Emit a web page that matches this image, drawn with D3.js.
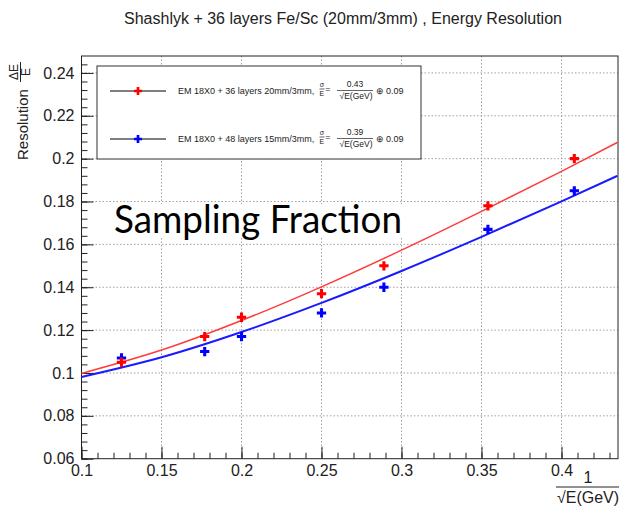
<!DOCTYPE html>
<html>
<head>
<meta charset="utf-8">
<script src="https://cdn.jsdelivr.net/npm/d3@7"></script>
<style>
  body { margin: 0; background: #fff; }
  svg { display: block; font-family: "Liberation Sans", Arial, sans-serif; }
</style>
</head>
<body>
<div id="chart"></div>
<script>
// 1/sqrt(E) of the measured points
const INV_SQRT_E = [0.125, 0.177, 0.2, 0.25, 0.289, 0.354, 0.408];
// measured resolution, 36 layers 20mm/3mm (red) and 48 layers 15mm/3mm (blue)
const RES_36 = [0.105, 0.117, 0.126, 0.137, 0.150, 0.178, 0.200];
const RES_48 = [0.107, 0.110, 0.117, 0.128, 0.140, 0.167, 0.185];
// fit curves
const FIT_X = [0.1, 0.15, 0.2, 0.25, 0.3, 0.35, 0.4, 0.435];
const FIT_36 = [0.0998, 0.1107, 0.1245, 0.1402, 0.1573, 0.1754, 0.1941, 0.2076];
const FIT_48 = [0.0981, 0.1073, 0.1191, 0.1327, 0.1476, 0.1635, 0.1801, 0.192];

const X_TICKS = [0.1, 0.15, 0.2, 0.25, 0.3, 0.35, 0.4];
const Y_TICKS = [0.06, 0.08, 0.1, 0.12, 0.14, 0.16, 0.18, 0.2, 0.22, 0.24];
const SERIES_LABELS = ["EM 18X0 + 36 layers 20mm/3mm,", "EM 18X0 + 48 layers 15mm/3mm,"];
const STOCHASTIC = ["0.43", "0.39"];
const CONSTANT = ["0.09", "0.09"];

const WIDTH = 620;
const HEIGHT = 506;
const FRAME = { left: 81.5, right: 618, top: 56, bottom: 458.7 };

const COLORS = {
  red: "#ff0000",
  blue: "#0000ff",
  redLine: "#ff3b3b",
  blueLine: "#1a1aff",
  axis: "#222",
  grid: "#a0a0a0",
  text: "#222",
};

const svg = d3.select("#chart").append("svg")
  .attr("width", WIDTH)
  .attr("height", HEIGHT);

const x = d3.scaleLinear().domain([0.1, 0.4353]).range([FRAME.left, FRAME.right]);
const y = d3.scaleLinear().domain([0.06, 0.2479]).range([FRAME.bottom, FRAME.top]);

// Title
svg.append("text")
  .attr("x", 343)
  .attr("y", 24)
  .attr("text-anchor", "middle")
  .attr("fill", COLORS.text)
  .style("font-size", "16px")
  .text("Shashlyk + 36 layers Fe/Sc (20mm/3mm) , Energy Resolution");

// Grid lines (dotted)
const grid = svg.append("g").attr("class", "grid");
grid.selectAll(".gx")
  .data(X_TICKS.slice(1))
  .enter().append("line")
  .attr("x1", (d) => x(d)).attr("x2", (d) => x(d))
  .attr("y1", FRAME.top).attr("y2", FRAME.bottom)
  .attr("stroke", COLORS.grid).attr("stroke-dasharray", "1.5,2");
grid.selectAll(".gy")
  .data(Y_TICKS.slice(1))
  .enter().append("line")
  .attr("x1", FRAME.left).attr("x2", FRAME.right)
  .attr("y1", (d) => y(d)).attr("y2", (d) => y(d))
  .attr("stroke", COLORS.grid).attr("stroke-dasharray", "1.5,2");

// Frame
svg.append("rect")
  .attr("x", FRAME.left).attr("y", FRAME.top)
  .attr("width", FRAME.right - FRAME.left)
  .attr("height", FRAME.bottom - FRAME.top)
  .attr("fill", "none").attr("stroke", COLORS.axis).attr("stroke-width", 1);

// Axes: major + minor ticks pointing inward
const xMinor = d3.range(0.1, 0.436, 0.01).map((v) => +v.toFixed(2));
const yMinor = d3.range(0.06, 0.2479, 0.004).map((v) => +v.toFixed(3));

const xAxisG = svg.append("g").attr("transform", `translate(0,${FRAME.bottom})`);
xAxisG.append("g")
  .call(d3.axisBottom(x).tickValues(xMinor).tickSize(-6).tickFormat(""))
  .call((g) => g.select(".domain").remove());
xAxisG.append("g")
  .call(d3.axisBottom(x).tickValues(X_TICKS).tickSize(-12).tickPadding(6)
    .tickFormat((d) => String(+d.toFixed(2))))
  .call((g) => g.select(".domain").remove())
  .call((g) => g.selectAll("text").style("font-size", "16px").attr("fill", COLORS.text));

const yAxisG = svg.append("g").attr("transform", `translate(${FRAME.left},0)`);
yAxisG.append("g")
  .call(d3.axisLeft(y).tickValues(yMinor).tickSize(-6).tickFormat(""))
  .call((g) => g.select(".domain").remove());
yAxisG.append("g")
  .call(d3.axisLeft(y).tickValues(Y_TICKS).tickSize(-12).tickPadding(7)
    .tickFormat((d) => String(+d.toFixed(2))))
  .call((g) => g.select(".domain").remove())
  .call((g) => g.selectAll("text").style("font-size", "16px").attr("fill", COLORS.text));

svg.selectAll(".tick line").attr("stroke", COLORS.axis);

// Fit curves
const line = d3.line()
  .x((d) => x(d[0]))
  .y((d) => y(d[1]))
  .curve(d3.curveMonotoneX);

svg.append("path")
  .datum(FIT_X.map((v, i) => [v, FIT_48[i]]))
  .attr("d", line)
  .attr("fill", "none")
  .attr("stroke", COLORS.blueLine)
  .attr("stroke-width", 2);

svg.append("path")
  .datum(FIT_X.map((v, i) => [v, FIT_36[i]]))
  .attr("d", line)
  .attr("fill", "none")
  .attr("stroke", COLORS.redLine)
  .attr("stroke-width", 1.5);

// Markers (full cross)
const cross = d3.symbol().type(d3.symbolCross).size(48);
[[RES_48, COLORS.blue], [RES_36, COLORS.red]].forEach(([vals, color]) => {
  svg.append("g")
    .selectAll("path")
    .data(INV_SQRT_E.map((v, i) => [v, vals[i]]))
    .enter().append("path")
    .attr("d", cross)
    .attr("transform", (d) => `translate(${x(d[0])},${y(d[1])})`)
    .attr("fill", color);
});

// Legend
const legend = svg.append("g").attr("class", "legend");
legend.append("rect")
  .attr("x", 97).attr("y", 66)
  .attr("width", 324).attr("height", 93)
  .attr("fill", "#fff")
  .attr("stroke", "#333").attr("stroke-width", 1);

[COLORS.red, COLORS.blue].forEach((color, i) => {
  const cy = 91 + i * 48;
  const row = legend.append("g").attr("transform", `translate(0,${cy})`);
  row.append("line")
    .attr("x1", 110).attr("x2", 166)
    .attr("stroke", "#555").attr("stroke-width", 1.5);
  row.append("path")
    .attr("d", d3.symbol().type(d3.symbolCross).size(36))
    .attr("transform", "translate(138,0)")
    .attr("fill", color);
  row.append("text")
    .attr("x", 178).attr("y", 2.5)
    .attr("fill", COLORS.text)
    .style("font-size", "9px")
    .text(SERIES_LABELS[i]);

  // sigma / E
  row.append("text").attr("x", 321.8).attr("y", -4).attr("text-anchor", "middle")
    .style("font-size", "7px").attr("fill", COLORS.text).text("σ");
  row.append("line").attr("x1", 319.5).attr("x2", 324.5).attr("y1", -2).attr("y2", -2)
    .attr("stroke", COLORS.text).attr("stroke-width", 0.7);
  row.append("text").attr("x", 321.8).attr("y", 4.5).attr("text-anchor", "middle")
    .style("font-size", "7px").attr("fill", COLORS.text).text("E");
  row.append("text").attr("x", 328).attr("y", 1).attr("text-anchor", "middle")
    .style("font-size", "9px").attr("fill", COLORS.text).text("=");

  // stochastic / sqrt(E)
  row.append("text").attr("x", 355).attr("y", -4).attr("text-anchor", "middle")
    .style("font-size", "8.5px").attr("fill", COLORS.text).text(STOCHASTIC[i]);
  row.append("line").attr("x1", 337).attr("x2", 373).attr("y1", -0.5).attr("y2", -0.5)
    .attr("stroke", COLORS.text).attr("stroke-width", 0.7);
  row.append("text").attr("x", 356).attr("y", 8).attr("text-anchor", "middle")
    .style("font-size", "8.5px").attr("fill", COLORS.text).text("√E(GeV)");

  row.append("text").attr("x", 375.5).attr("y", 2.5)
    .style("font-size", "9px").attr("fill", COLORS.text)
    .text(`⊕ ${CONSTANT[i]}`);
});

// Y axis title: "Resolution" with dE/E
const yTitle = svg.append("g").attr("transform", "translate(28,160) rotate(-90)");
yTitle.append("text")
  .attr("x", 0).attr("y", 0)
  .style("font-size", "15px").attr("fill", COLORS.text)
  .text("Resolution");
yTitle.append("text")
  .attr("x", 88).attr("y", -10)
  .attr("text-anchor", "middle")
  .style("font-size", "12px").attr("fill", COLORS.text)
  .text("ΔE");
yTitle.append("line")
  .attr("x1", 78).attr("x2", 98).attr("y1", -7.5).attr("y2", -7.5)
  .attr("stroke", COLORS.text).attr("stroke-width", 1);
yTitle.append("text")
  .attr("x", 88).attr("y", 2)
  .attr("text-anchor", "middle")
  .style("font-size", "12px").attr("fill", COLORS.text)
  .text("E");

// X axis title: 1 / sqrt(E(GeV))
const xTitle = svg.append("g");
xTitle.append("text")
  .attr("x", 588).attr("y", 483)
  .attr("text-anchor", "middle")
  .style("font-size", "16px").attr("fill", COLORS.text)
  .text("1");
xTitle.append("line")
  .attr("x1", 556).attr("x2", 619).attr("y1", 487).attr("y2", 487)
  .attr("stroke", COLORS.text).attr("stroke-width", 1);
xTitle.append("text")
  .attr("x", 588).attr("y", 503)
  .attr("text-anchor", "middle")
  .style("font-size", "16px").attr("fill", COLORS.text)
  .text("√E(GeV)");

// Slide overlay text
svg.append("rect")
  .attr("x", 111).attr("y", 204)
  .attr("width", 294).attr("height", 32)
  .attr("fill", "#fff");
svg.append("text")
  .attr("x", 114).attr("y", 233)
  .attr("textLength", 288)
  .attr("lengthAdjust", "spacingAndGlyphs")
  .style("font-family", "Lato, 'Open Sans', sans-serif")
  .style("font-size", "39px")
  .attr("fill", "#000")
  .text("Sampling Fraction");
</script>
</body>
</html>
